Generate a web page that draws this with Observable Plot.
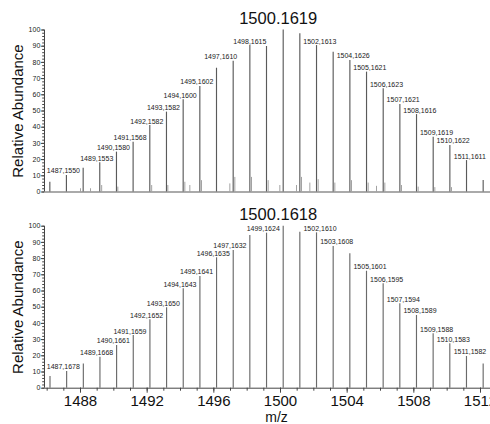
<!DOCTYPE html>
<html><head><meta charset="utf-8">
<script src="https://cdn.jsdelivr.net/npm/d3@7"></script>
<script src="https://cdn.jsdelivr.net/npm/@observablehq/plot@0.6"></script>
<style>body{margin:0;background:#fff;} svg{display:block;}</style>
</head><body><div id="chart"></div>
<script>
// ---- data ----
const topPeakMz = [1486.16, 1487.1550, 1488.16, 1489.1553, 1490.1580, 1491.1568, 1492.1582, 1493.1582, 1494.1600, 1495.1602, 1496.16, 1497.1610, 1498.1615, 1499.16, 1500.1619, 1501.16, 1502.1613, 1503.16, 1504.1626, 1505.1621, 1506.1623, 1507.1621, 1508.1616, 1509.1619, 1510.1622, 1511.1611, 1512.16];
const topPeakAbundance = [6.0, 10.2, 14.7, 18.0, 24.6, 30.7, 41.0, 49.3, 56.9, 65.1, 76.4, 80.7, 90.4, 89.8, 100, 97.7, 90.4, 86.3, 81.2, 74.0, 63.7, 54.0, 47.8, 33.8, 28.7, 19.4, 7.1];
const topPeakLabels = ["", "1487,1550", "", "1489,1553", "1490,1580", "1491,1568", "1492,1582", "1493,1582", "1494,1600", "1495,1602", "", "1497,1610", "1498,1615", "", "", "", "1502,1613", "", "1504,1626", "1505,1621", "1506,1623", "1507,1621", "1508,1616", "1509,1619", "1510,1622", "1511,1611", ""];
const topNoiseMz = [1488.0, 1488.6, 1489.27, 1490.24, 1492.27, 1493.24, 1494.26, 1494.56, 1495.26, 1496.96, 1497.26, 1498.26, 1499.26, 1499.96, 1500.96, 1501.26, 1501.76, 1502.26, 1503.26, 1504.26, 1505.26, 1505.76, 1506.26, 1507.26, 1508.26, 1509.26, 1510.26];
const topNoiseAbundance = [2, 2, 4, 3, 4, 4, 6, 4, 7, 5, 9, 9, 7, 4, 4, 9, 5.5, 7.6, 5.5, 7, 5.5, 3.5, 5.5, 4, 3, 2.7, 2.7];
const topTitle = "1500.1619";

const botPeakMz = [1486.17, 1487.1678, 1488.17, 1489.1668, 1490.1661, 1491.1659, 1492.1652, 1493.1650, 1494.1643, 1495.1641, 1496.1635, 1497.1632, 1498.16, 1499.1624, 1500.1618, 1501.16, 1502.1610, 1503.1608, 1504.16, 1505.1601, 1506.1595, 1507.1594, 1508.1589, 1509.1588, 1510.1583, 1511.1582, 1512.16];
const botPeakAbundance = [7.2, 10.3, 15, 19.1, 26.4, 32.5, 42.2, 49.6, 61.4, 69, 80.5, 85, 94.3, 95.7, 100, 96.3, 95.9, 87.5, 83, 72.2, 64.4, 52.1, 44.9, 33.6, 27.4, 19.6, 15];
const botPeakLabels = ["", "1487,1678", "", "1489,1668", "1490,1661", "1491,1659", "1492,1652", "1493,1650", "1494,1643", "1495,1641", "1496,1635", "1497,1632", "", "1499,1624", "", "", "1502,1610", "1503,1608", "", "1505,1601", "1506,1595", "1507,1594", "1508,1589", "1509,1588", "1510,1583", "1511,1582", ""];
const botTitle = "1500.1618";

const xMajorTicks = [1488, 1492, 1496, 1500, 1504, 1508, 1512];
const yTicks = [0, 10, 20, 30, 40, 50, 60, 70, 80, 90, 100];
const yLabel = "Relative Abundance";
const xLabel = "m/z";

// ---- build ----
const xDomain = [1485.84, 1512.6];
const font = "Liberation Sans, Arial, Helvetica, sans-serif";
const toRows = (mz, ab, lab) => mz.map((m, i) => ({mz: m, ab: ab[i], label: lab ? lab[i] : ""}));
const topPeaks = toRows(topPeakMz, topPeakAbundance, topPeakLabels);
const topNoise = toRows(topNoiseMz, topNoiseAbundance);
const botPeaks = toRows(botPeakMz, botPeakAbundance, botPeakLabels);

// horizontal label offsets in pixels
const dxTop = d => d.mz < 1496.5 ? -3 : d.mz < 1497.5 ? -12.5 : d.mz < 1498.5 ? 0 : 3.3;
const dxBot = d => d.mz < 1500 ? -3.3 : 3.5;

function withOffsets(rows, dxFn) {
  const pxPerUnit = 446 / (xDomain[1] - xDomain[0]);
  return rows.map(d => ({...d, labelX: d.mz + dxFn(d) / pxPerUnit}));
}

function build(opts) {
  const {peaks, noise, title, dxFn, height, marginTop, marginBottom, bottomAxis} = opts;
  const peaksLab = withOffsets(peaks.filter(d => d.label), dxFn);
  const maxRow = peaks.filter(d => d.ab === 100);
  const marks = [];
  if (noise) {
    marks.push(Plot.ruleY([0], {stroke: "#aaa", strokeWidth: 2.2}));
    marks.push(Plot.ruleX(noise, {x: "mz", y1: 0, y2: "ab", stroke: "#999", strokeWidth: 0.9}));
  } else {
    marks.push(Plot.ruleY([0], {stroke: "#444", strokeWidth: 1}));
  }
  marks.push(Plot.ruleX(peaks, {x: "mz", y1: 0, y2: "ab", stroke: noise ? "#5a5a5a" : "#6a6a6a", strokeWidth: 1.15}));
  marks.push(Plot.text(peaksLab, {x: "labelX", y: "ab", text: "label", dy: -4.3, fontSize: 7, fill: "#222", lineAnchor: "middle"}));
  marks.push(Plot.text(maxRow, {x: "mz", y: "ab", text: () => title, dx: -5, dy: -11, fontSize: 16.5, fill: "#111", lineAnchor: "middle"}));
  marks.push(Plot.ruleX([xDomain[0]], {y1: 0, y2: 100, stroke: "#444", strokeWidth: 1}));
  marks.push(Plot.axisY({ticks: d3.range(0, 101, 2), tickSize: 1.8, tickFormat: () => "", label: null, stroke: "#444"}));
  marks.push(Plot.axisY({ticks: yTicks, tickSize: 3.2, tickPadding: 1, fontSize: 7, label: null, stroke: "#444", fill: "#222"}));
  marks.push(Plot.text([yLabel], {frameAnchor: "left", rotate: -90, dx: -26, text: d => d, fontSize: 15, fill: "#111", textAnchor: "middle", lineAnchor: "middle"}));
  if (bottomAxis) {
    marks.push(Plot.axisX({ticks: d3.range(1486, 1513, 1), tickSize: 3, tickFormat: () => "", label: null, stroke: "#444"}));
    marks.push(Plot.axisX({ticks: xMajorTicks, tickSize: 5, tickPadding: 2, fontSize: 15, tickFormat: d => String(d), label: null, stroke: "#444", fill: "#111"}));
    marks.push(Plot.text([xLabel], {frameAnchor: "bottom", dx: 9, dy: 29, text: d => d, fontSize: 14, fill: "#111", lineAnchor: "middle"}));
  }
  return Plot.plot({
    width: 490, height, marginLeft: 44, marginRight: 0, marginTop, marginBottom,
    style: {fontFamily: font, background: "#fff", overflow: "hidden"},
    x: {domain: xDomain, axis: bottomAxis ? undefined : null},
    y: {domain: [0, 100]},
    marks
  });
}

const chart = document.getElementById("chart");
chart.append(build({peaks: topPeaks, noise: topNoise, title: topTitle, dxFn: dxTop, height: 200, marginTop: 29.5, marginBottom: 8.5, bottomAxis: false}));
chart.append(build({peaks: botPeaks, noise: null, title: botTitle, dxFn: dxBot, height: 224, marginTop: 25.7, marginBottom: 36.3, bottomAxis: true}));
</script></body></html>
